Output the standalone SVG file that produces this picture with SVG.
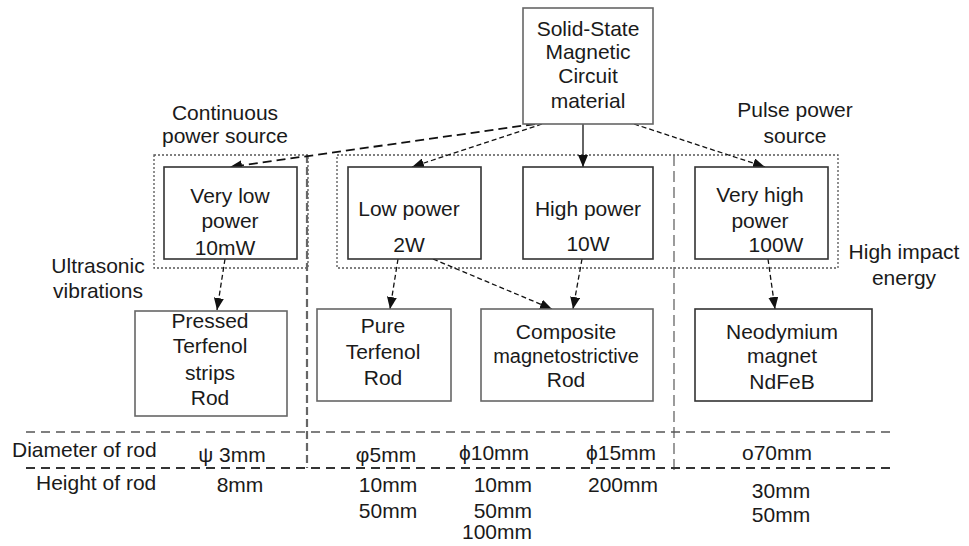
<svg xmlns="http://www.w3.org/2000/svg" width="969" height="546" viewBox="0 0 969 546">
<defs>
<style>
text{font-family:"Liberation Sans",Arial,sans-serif;font-size:21px;fill:#1a1a1a;text-anchor:middle}
.l{text-anchor:start}
.e{text-anchor:end}
.box{fill:#fff;stroke:#333;stroke-width:1.6}
.gbox{fill:#fff;stroke:#666;stroke-width:1.6}
.grp{fill:none;stroke:#555;stroke-width:1.3;stroke-dasharray:2,2}
.sep{fill:none;stroke:#555;stroke-width:1.5;stroke-dasharray:9,6}
.vsep{fill:none;stroke:#666;stroke-width:2.2;stroke-dasharray:8,4}
.vsep2{fill:none;stroke:#666;stroke-width:1.3;stroke-dasharray:11,5}
.c{fill:none;stroke:#111;stroke-width:1.3;stroke-dasharray:5,3;marker-end:url(#ah)}
.cl{fill:none;stroke:#111;stroke-width:1.8;stroke-dasharray:9,5;marker-end:url(#ah)}
.cs{fill:none;stroke:#111;stroke-width:1.3;marker-end:url(#ah)}
</style>
<marker id="ah" viewBox="0 0 12 10" refX="12" refY="5" markerWidth="12" markerHeight="10" markerUnits="userSpaceOnUse" orient="auto">
<path d="M0,0 L12,5 L0,10 Z" fill="#111"/>
</marker>
</defs>
<rect width="969" height="546" fill="#fff"/>

<g id="groups">
<rect class="grp" x="154" y="155" width="154" height="113"/>
<rect class="grp" x="337" y="155" width="501" height="113"/>
<line class="vsep" x1="307" y1="155" x2="307" y2="468"/>
<line class="vsep2" x1="674" y1="155" x2="674" y2="472"/>
<line class="sep" x1="26" y1="432" x2="892" y2="432"/>
<line class="sep" x1="26" y1="468" x2="892" y2="468" style="stroke:#333;stroke-width:1.8"/>
</g>

<g id="labels">
<text x="225" y="120">Continuous</text>
<text x="225" y="143">power source</text>
<text x="795" y="117">Pulse power</text>
<text x="795" y="143">source</text>
<text x="98" y="273">Ultrasonic</text>
<text x="98" y="298">vibrations</text>
<text x="904" y="259">High impact</text>
<text x="904" y="285">energy</text>
<text class="l" x="12" y="457">Diameter of rod</text>
<text class="l" x="36" y="490">Height of rod</text>
<text x="232" y="462">ψ 3mm</text>
<text x="386" y="462">φ5mm</text>
<text x="494" y="460">ϕ10mm</text>
<text x="621" y="460">ϕ15mm</text>
<text x="777" y="460">o70mm</text>
<text x="240" y="492">8mm</text>
<text x="388" y="492">10mm</text>
<text x="388" y="518">50mm</text>
<text class="e" x="532" y="492">10mm</text>
<text class="e" x="532" y="518">50mm</text>
<text class="e" x="532" y="539">100mm</text>
<text x="623" y="492">200mm</text>
<text x="781" y="498">30mm</text>
<text x="781" y="522">50mm</text>
</g>

<g id="connectors">
<path class="cl" d="M535,124 L230,167"/>
<path class="c" d="M542,124 L412,167"/>
<path class="cs" d="M583,124 L583,167"/>
<path class="c" d="M634,124 L765,167"/>
<path class="c" d="M225,259 L217,310"/>
<path class="c" d="M398,259 L390,309"/>
<path class="c" d="M433,259 L552,309"/>
<path class="c" d="M582,259 L573,309"/>
<path class="c" d="M768,259 L775,309"/>
</g>

<g id="n-source">
<rect class="gbox" x="523" y="8" width="130" height="116"/>
<text x="588" y="36">Solid-State</text>
<text x="588" y="59">Magnetic</text>
<text x="588" y="83">Circuit</text>
<text x="588" y="108">material</text>
</g>

<g id="n-verylow">
<rect class="box" x="164" y="167" width="133" height="92"/>
<text x="230" y="203">Very low</text>
<text x="230" y="228">power</text>
<text x="225" y="255">10mW</text>
</g>

<g id="n-low">
<rect class="box" x="348" y="167" width="133" height="92"/>
<text x="409" y="216">Low power</text>
<text x="409" y="252">2W</text>
</g>

<g id="n-high">
<rect class="box" x="523" y="167" width="130" height="92"/>
<text x="588" y="216">High power</text>
<text x="588" y="251">10W</text>
</g>

<g id="n-veryhigh">
<rect class="box" x="695" y="167" width="133" height="92"/>
<text x="760" y="202">Very high</text>
<text x="760" y="228">power</text>
<text x="776" y="252">100W</text>
</g>

<g id="n-pressed">
<rect class="gbox" x="135" y="311" width="152" height="105"/>
<text x="210" y="328">Pressed</text>
<text x="210" y="353">Terfenol</text>
<text x="210" y="380">strips</text>
<text x="210" y="405">Rod</text>
</g>

<g id="n-pure">
<rect class="gbox" x="317" y="309" width="134" height="92"/>
<text x="383" y="333">Pure</text>
<text x="383" y="359">Terfenol</text>
<text x="383" y="385">Rod</text>
</g>

<g id="n-composite">
<rect class="gbox" x="481" y="309" width="172" height="92"/>
<text x="566" y="339">Composite</text>
<text x="566" y="363" style="font-size:20px">magnetostrictive</text>
<text x="566" y="387">Rod</text>
</g>

<g id="n-neodymium">
<rect class="box" x="695" y="309" width="177" height="92"/>
<text x="782" y="339">Neodymium</text>
<text x="782" y="363">magnet</text>
<text x="782" y="389">NdFeB</text>
</g>
</svg>
